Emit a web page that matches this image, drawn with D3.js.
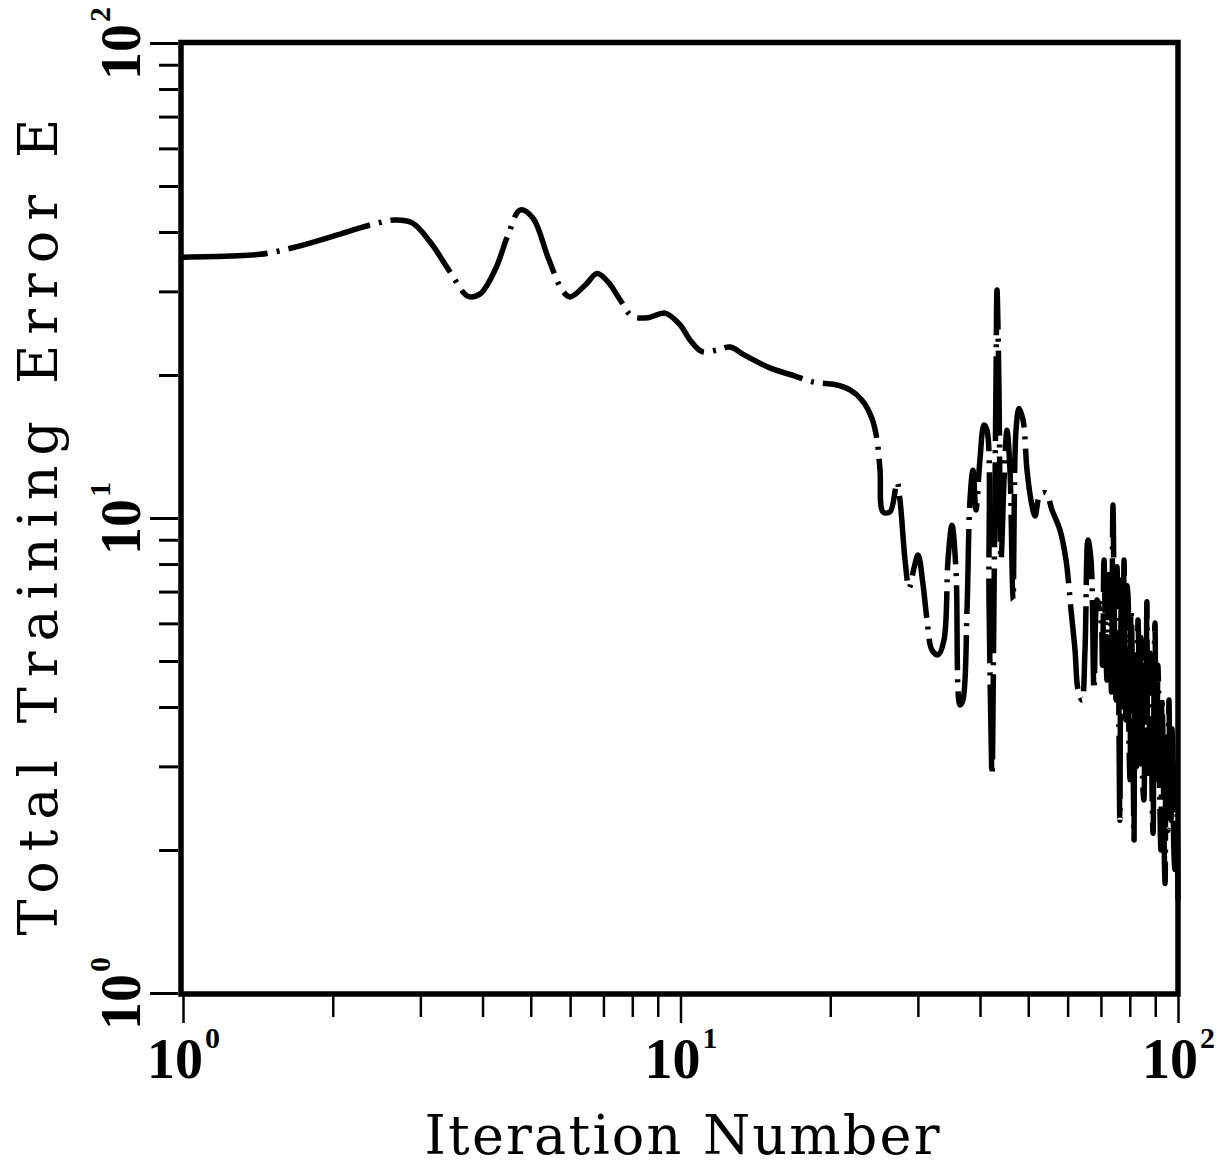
<!DOCTYPE html>
<html>
<head>
<meta charset="utf-8">
<script src="https://cdn.jsdelivr.net/npm/d3@7"></script>
<style>
  body { margin: 0; background: #fff; }
  svg { display: block; }
</style>
</head>
<body>
<svg width="1220" height="1168"></svg>
<script>
// iteration number and total training error
const iter = [1.00, 1.24, 1.43, 1.72, 2.07, 2.38, 2.67, 2.89, 3.14, 3.44, 3.74, 3.95, 4.24, 4.50, 4.76,
  5.05, 5.42, 5.78, 6.00, 6.43, 6.80, 7.15, 7.56, 7.99, 8.61, 9.31, 9.98, 10.45, 11.05, 11.9,
  12.58, 13.48, 15.13, 16.99, 18.64, 20.44, 21.91, 23.16, 24.26, 24.83, 25.18, 25.53, 26.37, 27.24, 27.62,
  28.27, 28.8, 29.47, 30.03, 30.73, 31.3, 32.03, 32.93, 33.86, 34.49, 35.13, 35.79, 36.46, 36.96, 37.66,
  38.18, 38.71, 39.26, 39.99, 40.74, 41.31, 41.7, 42.28, 42.67, 43.07, 43.27, 43.67, 44.08, 44.7, 45.32,
  45.95, 46.59, 47.25, 47.91, 48.8, 49.72, 50.64, 51.6, 52.8, 54.28, 55.8, 57.9, 59.55, 60.95, 62.09,
  62.95, 64.12, 65.02, 65.93, 66.85, 67.79, 68.74,
  70.02, 70.5, 71.0, 71.5, 72.0, 72.5, 73.0, 73.5, 74.0, 74.5, 75.1, 75.4, 75.8, 76.1, 76.4,
  76.8, 77.2, 77.5, 77.9, 78.2, 78.6, 79.0, 79.4, 79.7, 80.1, 80.4, 80.8, 81.2, 81.6, 81.9,
  82.3, 82.7, 83.1, 83.5, 83.9, 84.2, 84.6, 85.0, 85.4, 85.8, 86.2, 86.6, 87.0, 87.4, 87.8,
  88.3, 88.7, 89.1, 89.5, 89.9, 90.3, 90.7, 91.1, 91.6, 92.0, 92.4, 92.8, 93.3, 93.7, 94.2,
  94.6, 95.0, 95.4, 95.9, 96.3, 96.8, 97.2, 97.7, 98.1, 98.6, 99.0, 99.5, 100]
const err = [35.4, 35.6, 35.9, 37.4, 39.6, 41.4, 42.4, 41.8, 38.1, 33.0, 29.3, 29.6, 33.3, 39.4, 44.5,
  42.8, 35.3, 30.2, 29.2, 30.9, 32.7, 31.4, 28.8, 26.6, 26.4, 27.0, 25.5, 23.7, 22.4, 22.6,
  22.9, 22.0, 20.7, 19.9, 19.3, 19.1, 18.6, 17.7, 16.2, 14.6, 12.6, 10.3, 10.3, 11.9, 10.9,
  8.16, 7.12, 7.85, 8.36, 7.23, 6.10, 5.27, 5.15, 5.54, 8.16, 9.66, 7.77, 4.04, 4.14, 6.40,
  10.9, 12.6, 10.4, 13.3, 15.7, 15.3, 6.72, 2.88, 6.72, 19.5, 30.2, 18.6, 8.16, 12.0, 15.3,
  12.6, 6.72, 15.3, 17.0, 16.1, 12.6, 10.9, 10.1, 11.2, 11.3, 10.4, 9.44, 8.16, 6.40, 5.27,
  4.35, 4.14, 5.27, 8.99, 8.16, 4.35, 6.72,
  6.10, 4.9, 8.16, 5.6, 4.56, 7.6, 6.72, 4.3, 10.65, 5.9, 4.14, 7.9, 6.10, 3.6, 2.31,
  6.2, 7.41, 4.0, 8.16, 5.3, 3.76, 7.2, 6.72, 3.4, 2.81, 6.4, 5.54, 3.3, 2.10, 4.4,
  5.02, 3.0, 6.10, 4.8, 3.09, 5.6, 4.56, 2.7, 2.55, 4.9, 4.14, 6.66, 2.9, 3.09, 5.2,
  4.14, 2.6, 2.17, 4.6, 6.01, 3.3, 2.81, 4.9, 3.76, 2.4, 2.00, 4.2, 3.41, 2.2, 1.70,
  3.5, 3.09, 2.2, 4.14, 2.9, 2.31, 3.6, 3.09, 2.0, 1.82, 3.0, 2.55, 1.57]

const majors = [1, 10, 100]
const majorExp = ['0', '1', '2']

const data = iter.map((d, i) => ({ it: d, e: err[i] }))

const svg = d3.select('svg')
const serif = '"Liberation Serif", "Times New Roman", serif'
const titleFont = '"DejaVu Serif", serif'

const x = d3.scaleLog().domain([1, 100]).range([183, 1178])
const y = d3.scaleLog().domain([1, 100]).range([993, 43])
const isMajor = d => majors.includes(d)

// x axis ticks (below the frame)
const gx = svg.append('g')
  .attr('transform', 'translate(0,996)')
  .call(d3.axisBottom(x).tickValues(x.ticks()).tickSize(20).tickFormat(''))
gx.select('.domain').remove()
gx.selectAll('.tick line')
  .attr('stroke', '#000')
  .attr('stroke-width', 2.5)
  .attr('y2', d => isMajor(d) ? 27 : 21)

gx.selectAll('.tick')
  .filter(d => isMajor(d))
  .append('text')
  .attr('y', 82)
  .attr('fill', '#000')
  .attr('text-anchor', 'middle')
  .style('font-family', serif)
  .style('font-weight', 'bold')
  .style('font-size', '56px')
  .each(function (d) {
    const t = d3.select(this)
    t.append('tspan').text('10')
    t.append('tspan').attr('dy', '-1.0em').attr('dx', 2).style('font-size', '30px').text(majorExp[majors.indexOf(d)])
  })

// y axis ticks (left of the frame)
const gy = svg.append('g')
  .attr('transform', 'translate(178,0)')
  .call(d3.axisLeft(y).tickValues(y.ticks()).tickSize(17).tickFormat(''))
gy.select('.domain').remove()
gy.selectAll('.tick line')
  .attr('stroke', '#000')
  .attr('stroke-width', 3)
  .attr('x2', d => isMajor(d) ? -28 : -19)

gy.selectAll('.tick')
  .filter(d => isMajor(d))
  .append('text')
  .attr('transform', 'translate(-38,0) rotate(-90)')
  .attr('fill', '#000')
  .attr('text-anchor', 'middle')
  .style('font-family', serif)
  .style('font-weight', 'bold')
  .style('font-size', '56px')
  .each(function (d) {
    const t = d3.select(this)
    t.append('tspan').text('10')
    t.append('tspan').attr('dy', '-1.0em').attr('dx', 2).style('font-size', '30px').text(majorExp[majors.indexOf(d)])
  })

// plot frame
svg.append('rect')
  .attr('x', 181)
  .attr('y', 42.5)
  .attr('width', 997)
  .attr('height', 951.5)
  .attr('fill', 'none')
  .attr('stroke', '#000')
  .attr('stroke-width', 5.5)

// error curve, dash-dot
const line = d3.line()
  .x(d => x(d.it))
  .y(d => y(d.e))
  .curve(d3.curveCatmullRom.alpha(0.5))

svg.append('path')
  .datum(data)
  .attr('fill', 'none')
  .attr('stroke', '#000')
  .attr('stroke-width', 5.5)
  .attr('stroke-linejoin', 'round')
  .attr('stroke-dasharray', '85,9,3,9')
  .attr('d', line)

// axis titles
svg.append('text')
  .attr('x', 682)
  .attr('y', 1154)
  .attr('text-anchor', 'middle')
  .attr('textLength', 515)
  .attr('lengthAdjust', 'spacing')
  .style('font-family', titleFont)
  .style('font-size', '54px')
  .text('Iteration Number')

svg.append('text')
  .attr('transform', 'translate(57,527) rotate(-90)')
  .attr('text-anchor', 'middle')
  .attr('textLength', 817)
  .attr('lengthAdjust', 'spacing')
  .style('font-family', titleFont)
  .style('font-size', '54px')
  .text('Total Training Error E')
</script>
</body>
</html>
